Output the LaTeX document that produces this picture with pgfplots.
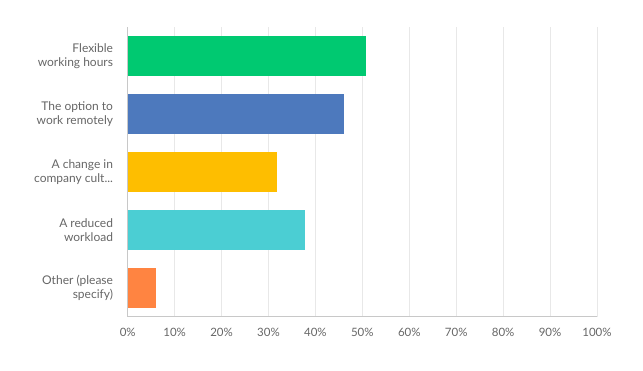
\documentclass[border=0pt]{standalone}
\usepackage{pgfplots}
\pgfplotsset{compat=1.18}
\usepackage{fontspec}
\setmainfont{Lato}
\definecolor{cgreen}{HTML}{00C971}
\definecolor{cblue}{HTML}{4D79BD}
\definecolor{cyellow}{HTML}{FEBE00}
\definecolor{cteal}{HTML}{4BCED3}
\definecolor{corange}{HTML}{FF8441}
\definecolor{ctext}{HTML}{666666}
\definecolor{cgrid}{HTML}{E8E8E8}
\definecolor{caxis}{HTML}{C8C8C8}
\newcommand{\dotss}{.\kern0pt.\kern0pt.}
\begin{document}
\begin{tikzpicture}
\path[use as bounding box] (0,0) rectangle (643bp,371bp);
\begin{axis}[
  at={(127.7bp,54.3bp)}, anchor=south west,
  scale only axis, width=469.3bp, height=289.7bp,
  xbar, bar width=40bp, bar shift=0pt,
  xmin=0, xmax=100, ymin=-0.5, ymax=4.5, y dir=reverse,
  xtick={0,10,20,30,40,50,60,70,80,90,100},
  xticklabels={0\%,10\%,20\%,30\%,40\%,50\%,60\%,70\%,80\%,90\%,100\%},
  ytick={0,1,2,3,4},
  yticklabels={{Flexible\\working hours},{The option to\\work remotely},{A change in\\company cult\dotss},{A reduced\\workload},{Other (please\\specify)}},
  yticklabel style={align=right, font=\fontsize{12bp}{14bp}\selectfont, text=ctext, inner sep=0pt, xshift=-14.5bp},
  xticklabel style={font=\fontsize{11.5bp}{14bp}\selectfont, text=ctext, inner sep=0pt, yshift=-11.5bp},
  major tick length=0pt,
  axis x line*=bottom, axis y line*=left,
  axis line style={caxis, line width=0.8bp},
  xmajorgrids, grid style={cgrid, line width=0.8bp},
  clip=false,
]
\addplot[fill=cgreen, draw=none] coordinates {(50.7,0)};
\addplot[fill=cblue, draw=none] coordinates {(46.0,1)};
\addplot[fill=cyellow, draw=none] coordinates {(31.9,2)};
\addplot[fill=cteal, draw=none] coordinates {(37.7,3)};
\addplot[fill=corange, draw=none] coordinates {(6.0,4)};
\end{axis}
\end{tikzpicture}
\end{document}
